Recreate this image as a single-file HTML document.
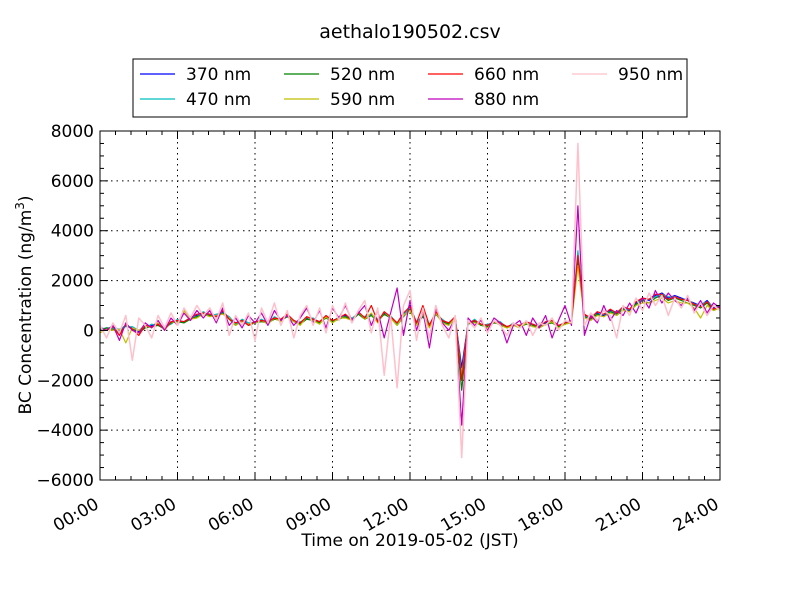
<!DOCTYPE html>
<html><head><meta charset="utf-8">
<style>
body{margin:0;background:#fff;font-family:"Liberation Sans","DejaVu Sans",sans-serif;}
svg text{font-family:"DejaVu Sans","Liberation Sans",sans-serif;}
</style></head>
<body>
<svg id="chart" width="800" height="600" xmlns="http://www.w3.org/2000/svg">
<rect width="800" height="600" fill="#fff"/>
<text x="410" y="38" font-size="19" text-anchor="middle">aethalo190502.csv</text>
<g id="grid"></g>
<g id="series"></g>
<rect x="100" y="131" width="620" height="349" fill="none" stroke="#000" stroke-width="1"/>
<g id="axes"></g>
<text x="410" y="546" font-size="17" text-anchor="middle">Time on 2019-05-02 (JST)</text>
<text transform="translate(31,305) rotate(-90)" font-size="17" text-anchor="middle">BC Concentration (ng/m<tspan dy="-7" font-size="12">3</tspan><tspan dy="7">)</tspan></text>
<g id="legend">
<rect x="133" y="59" width="554" height="58" fill="#fff" stroke="#000"/>
</g>
</svg>
<script>
const hours = [];
for (let i = 0; i <= 96; i++) hours.push(i * 0.25);
const s370 = [100,50,150,0,200,100,-50,150,200, 250,100,300,400,350,500,600,700, 650,600,750,500,300,400,250,350, 400,350,500,450,600,400,300,500, 450,350,550,400,500,600,450,700, 500,650,400,700,550,300,600,1000, 300,600,200,700,400,300,500,-1500, 300,400,250,200,350,300,150,250, 200,300,250,150,300,350,200,300, 400,3000,600,500,700,600,800,700, 900,800,1100,1300,1200,1400,1500,1300, 1400,1300,1200,1100,1000,1200,900,1000];
const s470 = [50,100,100,50,150,150,0,100,250, 200,150,250,450,300,550,550,750, 600,650,700,550,250,450,300,300, 450,300,550,400,650,350,350,450, 500,300,600,350,550,550,500,650, 550,600,450,650,600,250,650,900, 350,550,250,650,450,250,550,-1800, 250,450,200,250,300,350,100,300, 150,350,200,200,250,400,150,350, 350,3200,550,550,650,650,750,750, 850,850,1050,1250,1250,1350,1450,1350, 1350,1250,1250,1050,1050,1150,950,950];
const s520 = [0,100,50,-100,200,50,-100,100,150, 200,50,300,350,300,450,550,650, 600,550,700,450,200,400,200,300, 350,300,450,400,550,350,250,450, 400,300,500,350,450,550,400,650, 450,600,350,650,500,200,550,850, 250,550,150,650,350,250,450,-2400, 250,350,200,150,300,250,100,200, 150,250,200,100,250,300,150,250, 350,2800,550,450,650,550,750,650, 850,750,1050,1200,1100,1300,1400,1200, 1300,1200,1100,1000,900,1100,800,900];
const s590 = [-100,50,0,50,-500,100,0,200,100, 300,0,350,300,800,450,500,650, 550,600,650,500,200,350,250,300, 400,250,500,350,650,350,200,550, 400,250,550,300,500,500,400,750, 450,700,300,750,500,200,600,800, 200,650,100,700,300,200,500,-1900, 300,300,250,100,350,200,100,200, 100,300,150,100,250,350,100,250, 300,2600,500,400,600,550,700,600, 800,750,1000,1100,1100,1200,1300,1100, 1200,1100,1100,900,500,1000,800,900];
const s660 = [100,0,150,-200,250,50,-200,200,150, 250,50,350,400,350,500,650,700, 650,550,800,450,300,400,200,350, 400,350,500,450,650,400,300,550, 450,350,600,400,500,650,400,750, 500,1000,350,750,550,300,700,950, 300,1000,200,750,400,300,550,-2000, 300,400,250,200,350,300,150,250, 200,350,250,150,350,400,200,300, 400,3000,650,500,750,650,850,700, 950,850,1150,1300,1250,1450,1450,1250, 1350,1250,1200,1050,950,1150,850,950];
const s880 = [100,0,200,-400,300,0,-100,300,100, 400,0,500,200,700,400,800,500, 800,300,900,200,500,100,600,300, 700,200,800,400,600,200,500,900, 300,800,100,900,500,1000,400,700, 1000,200,800,-300,700,1700,-200,1200, 0,800,-700,900,300,0,500,-3800, 500,200,400,0,500,300,-500,200, 400,-200,500,100,600,-300,400,1000, 200,5000,-200,600,300,1000,400,800, 600,1100,700,1300,900,1600,1100,1500, 1200,1000,1300,800,1200,700,1100,900];
const s950 = [200,-300,300,-100,600,-1200,500,200,-300, 600,100,700,200,900,500,1000,600, 900,400,1100,-200,600,200,700,-400, 900,300,1100,200,800,-300,600,1000, 200,900,-100,1000,400,1100,300,800, 1200,-100,900,-1800,600,-2300,1000,1600, -400,900,-300,1000,200,-300,600,-5100, 400,100,500,-100,400,200,-200,300, 100,400,-200,300,200,500,0,400, 300,7500,200,700,400,800,600,-300, 1000,600,1300,800,1500,1000,1400,600, 1300,900,1400,700,1100,600,1000,800];
const seriesNames = ["370 nm","470 nm","520 nm","590 nm","660 nm","880 nm","950 nm"];
const seriesColors = ["#0000ff","#00bfbf","#008000","#bfbf00","#ff0000","#bf00bf","#ffc0cb"];
const seriesData = [s370,s470,s520,s590,s660,s880,s950];
const yTicks = [-6000,-4000,-2000,0,2000,4000,6000,8000];
const xTickLabels = ["00:00","03:00","06:00","09:00","12:00","15:00","18:00","21:00","24:00"];

const NS = "http://www.w3.org/2000/svg";
const X0 = 100, X1 = 720, Y0 = 131, Y1 = 480;
function xs(h){ return X0 + h / 24 * (X1 - X0); }
function ys(v){ return Y1 - (v + 6000) / 14000 * (Y1 - Y0); }
function mk(tag, attrs, parent){ const e = document.createElementNS(NS, tag); for (const k in attrs) e.setAttribute(k, attrs[k]); parent.appendChild(e); return e; }

const grid = document.getElementById("grid");
const axes = document.getElementById("axes");
xTickLabels.forEach((lab, i) => {
  const x = xs(i * 3);
  if (i > 0 && i < 8) {
    const g = mk("line", {x1:x, x2:x, y1:Y0, y2:Y1, stroke:"#000", "stroke-dasharray":"1.5,4", "stroke-width":1}, grid);
    
    
  }
  mk("line", {x1:x, x2:x, y1:Y1, y2:Y1-8, stroke:"#000"}, axes);
  mk("line", {x1:x, x2:x, y1:Y0, y2:Y0+8, stroke:"#000"}, axes);
  const ax = x - 6, ay = Y1 + 17;
  const t = mk("text", {x:ax, y:ay, "font-size":17, "text-anchor":"end", transform:`rotate(-30 ${ax} ${ay})`, dy:"0.7em"}, axes);
  t.textContent = lab;
  
  
});
for (let m = 0; m <= 24 * 60; m += 36) {
  if (m % 180 === 0) continue;
  const x = xs(m / 60);
  mk("line", {x1:x, x2:x, y1:Y1, y2:Y1-4, stroke:"#000"}, axes);
  mk("line", {x1:x, x2:x, y1:Y0, y2:Y0+4, stroke:"#000"}, axes);
}
yTicks.forEach(v => {
  const y = ys(v);
  if (v > -6000 && v < 8000) {
    const g = mk("line", {x1:X0, x2:X1, y1:y, y2:y, stroke:"#000", "stroke-dasharray":"1.5,4", "stroke-width":1}, grid);
    
    
  }
  mk("line", {x1:X0, x2:X0+8, y1:y, y2:y, stroke:"#000"}, axes);
  mk("line", {x1:X1, x2:X1-8, y1:y, y2:y, stroke:"#000"}, axes);
  const t = mk("text", {x:X0-6, y:y+6, "font-size":17, "text-anchor":"end"}, axes);
  t.textContent = v < 0 ? "\u2212" + Math.abs(v) : String(v);
  
  
});
for (let v = -6000; v <= 8000; v += 500) {
  if (v % 2000 === 0) continue;
  const y = ys(v);
  mk("line", {x1:X0, x2:X0+4, y1:y, y2:y, stroke:"#000"}, axes);
  mk("line", {x1:X1, x2:X1-4, y1:y, y2:y, stroke:"#000"}, axes);
}

const sg = document.getElementById("series");
seriesData.forEach((arr, si) => {
  const pts = arr.map((v, i) => xs(hours[i]).toFixed(1) + "," + ys(v).toFixed(1)).join(" ");
  const p = mk("polyline", {points:pts, fill:"none", stroke:seriesColors[si], "stroke-width":si === 6 ? 1.5 : 1.2, "stroke-linejoin":"round"}, sg);
  
  
});

const lg = document.getElementById("legend");
const colX = [140, 284, 428, 572];
seriesNames.forEach((n, i) => {
  const col = Math.floor(i / 2), row = i % 2;
  const x = colX[col], y = 74 + row * 25;
  const g = mk("g", {}, lg);
  
  
  mk("line", {x1:x, x2:x+35, y1:y, y2:y, stroke:seriesColors[i], "stroke-width":1.2}, g);
  const t = mk("text", {x:x+46, y:y+6, "font-size":17}, g);
  t.textContent = n;
});
</script>
</body></html>
